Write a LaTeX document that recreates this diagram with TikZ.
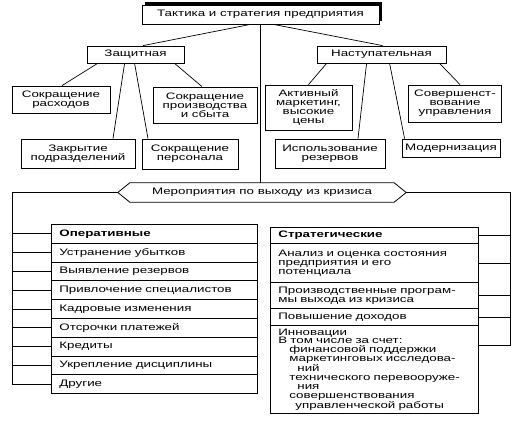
\documentclass[tikz,border=0pt]{standalone}
\usepackage{fontspec}
\setmainfont{Liberation Sans}[FakeStretch=1.42]
\usetikzlibrary{calc,shadows}
\tikzset{
  box/.style={draw, line width=0.8pt, fill=white, align=center, inner sep=0pt,
    font=\fontsize{9.4}{9}\selectfont},
  lnk/.style={line width=0.7pt},
  row/.style={draw, line width=0.8pt, anchor=north west, align=left,
    inner xsep=8pt, inner ysep=0pt, font=\fontsize{9.4}{8.9}\selectfont},
  oprow/.style={row, text width=190pt, minimum height=18.8pt},
  strow/.style={row, text width=192pt},
}
\begin{document}
\begin{tikzpicture}[x=1pt,y=-1pt]
\useasboundingbox (0,0) rectangle (523,430);
% top
\node[box, minimum width=237pt, minimum height=19pt,
  general shadow={fill=black, shadow xshift=2.5pt, shadow yshift=2.5pt}]
  (top) at (260.5,14.5) {Тактика и стратегия предприятия};
% level 2
\node[box, minimum width=97pt, minimum height=17pt] (zash) at (135.5,54.5) {Защитная};
\node[box, minimum width=129pt, minimum height=17pt] (nast) at (381.5,54.5) {Наступательная};
% children of zash
\node[box, minimum width=98pt, minimum height=27pt] (rasx) at (61,99.5) {Сокращение\\расходов};
\node[box, minimum width=104pt, minimum height=36pt] (proizv) at (205,105) {Сокращение\\производства\\и сбыта};
\node[box, minimum width=114pt, minimum height=29pt] (zakr) at (78,153.5) {Закрытие\\подразделений};
\node[box, minimum width=96pt, minimum height=30pt] (pers) at (190,154) {Сокращение\\персонала};
% children of nast
\node[box, minimum width=87pt, minimum height=45pt] (aktiv) at (308.5,107.5) {Активный\\маркетинг,\\высокие\\цены};
\node[box, minimum width=93pt, minimum height=37pt] (sover) at (455,103.5) {Совершенст-\\вование\\управления};
\node[box, minimum width=110pt, minimum height=29pt] (ispol) at (330,153.5) {Использование\\резервов};
\node[box, minimum width=98pt, minimum height=18pt] (modern) at (451,148) {Модернизация};
% connectors top
\draw[lnk] ([xshift=-10pt]top.south) -- ([xshift=7.5pt]zash.north);
\draw[lnk] ([xshift=13pt]top.south) -- ([xshift=1pt]nast.north);
\draw[lnk] ([xshift=11pt]zash.south west) -- ([xshift=1pt]rasx.north);
\draw[lnk] ([xshift=38pt]zash.south west) -- ([xshift=35pt]zakr.north);
\draw[lnk] ([xshift=48pt]zash.south west) -- ([xshift=-42pt]pers.north);
\draw[lnk] ([xshift=88pt]zash.south west) -- ([xshift=-3pt]proizv.north);
\draw[lnk] ([xshift=10pt]nast.south west) -- (aktiv.north);
\draw[lnk] ([xshift=50pt]nast.south west) -- ([xshift=28pt]ispol.north);
\draw[lnk] ([xshift=73pt]nast.south west) -- ([xshift=3pt]modern.north west);
\draw[lnk] ([xshift=123pt]nast.south west) -- ([xshift=5pt]sover.north);
% measures
\node[inner sep=0pt, minimum width=264pt, minimum height=19pt,
  font=\fontsize{9.4}{9}\selectfont] (mer) at (262,192.5) {Мероприятия по выходу из кризиса};
\coordinate (merL) at ([xshift=-12pt]mer.west);
\coordinate (merR) at ([xshift=12pt]mer.east);
\draw[line width=0.8pt] (mer.north west) -- (mer.north east) -- (merR) -- (mer.south east)
  -- (mer.south west) -- (merL) -- cycle;
\draw[lnk] (top.south) -- (top.south |- mer.north);
% operative table
\node[oprow] (op0) at (51,224) {\bfseries Оперативные};
\node[oprow] (op1) at (51,242.8) {Устранение убытков};
\node[oprow] (op2) at (51,261.6) {Выявление резервов};
\node[oprow] (op3) at (51,280.4) {Привлочение специалистов};
\node[oprow] (op4) at (51,299.2) {Кадровые изменения};
\node[oprow] (op5) at (51,318) {Отсрочки платежей};
\node[oprow] (op6) at (51,336.8) {Кредиты};
\node[oprow] (op7) at (51,355.6) {Укрепление дисциплины};
\node[oprow] (op8) at (51,374.4) {Другие};
% strategic table
\node[strow, minimum height=16pt] (st0) at (270,227) {\bfseries Стратегические};
\node[strow, minimum height=39pt] (st1) at (270,243) {Анализ и оценка состояния\\предприятия и его\\потенциала};
\node[strow, minimum height=26pt] (st2) at (270,282) {Производственные програм-\\мы выхода из кризиса};
\node[strow, minimum height=17pt] (st3) at (270,308) {Повышение доходов};
\node[strow, minimum height=88pt] (st4) at (270,325) {Инновации\\В том числе за счет:\\
  \hspace*{11pt}финансовой поддержки\\
  \hspace*{11pt}маркетинговых исследова-\\
  \hspace*{19pt}ний\\
  \hspace*{11pt}технического перевооруже-\\
  \hspace*{19pt}ния\\
  \hspace*{11pt}совершенствования\\
  \hspace*{17pt}управленческой работы};
% left bracket
\coordinate (lbx) at (12,0);
\draw[lnk] (merL) -- (merL -| lbx) -- (op8.west -| lbx) -- (op8.west);
\foreach \i in {0,...,7} \draw[lnk] (op\i.west -| lbx) -- (op\i.west);
% right bracket
\coordinate (rbx) at (510,0);
\coordinate (st4t) at ([yshift=-20pt]st4.north east);
\draw[lnk] (merR) -- (merR -| rbx) -- (st4t -| rbx) -- (st4t);
\foreach \i in {0,...,3} \draw[lnk] (st\i.east -| rbx) -- (st\i.east);
\end{tikzpicture}
\end{document}
